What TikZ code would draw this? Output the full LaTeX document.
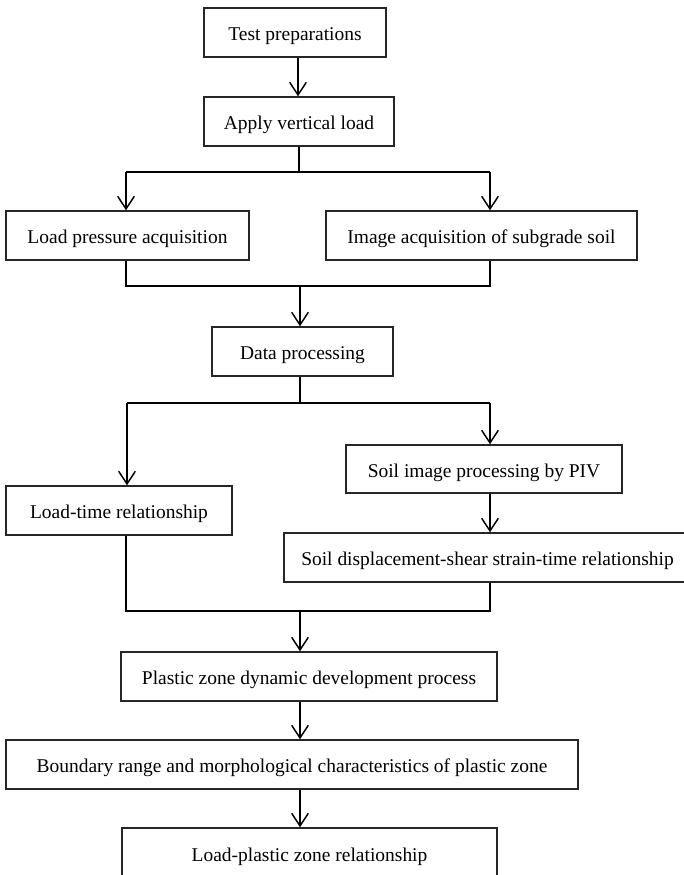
\documentclass[tikz,border=0pt]{standalone}
\usepackage{fontspec}
\setmainfont{Liberation Serif}
\usetikzlibrary{arrows.meta}
\tikzset{
  box/.style 2 args={draw=black!85, line width=1.1pt, rectangle, inner sep=0pt,
    minimum width={#1*0.75pt}, minimum height={#2*0.75pt}, align=center,
    text height=12.3pt, text depth=0pt,
    font=\fontsize{14.6}{16}\selectfont},
  conn/.style={line width=1.1pt, black},
  arr/.style={conn, -{Straight Barb[length=9.5pt,width=12.5pt,line width=1.1pt]}}
}
\begin{document}
\begin{tikzpicture}[x=0.75pt,y=-0.75pt]
\useasboundingbox (0,0) rectangle (684,875);
\clip (0,0) rectangle (684,875);
\fill[white] (0,0) rectangle (684,875);
% boxes
\node[box={182}{49}] (b1) at (295,32.5) {Test preparations};
\node[box={190}{49}] (b2) at (299,121.5) {Apply vertical load};
\node[box={243}{49}] (b3) at (127.5,235.5) {Load pressure acquisition};
\node[box={311}{49}] (b4) at (481.5,235.5) {Image acquisition of subgrade soil};
\node[box={181}{49}] (b5) at (302.5,351.5) {Data processing};
\node[box={276}{48}] (b6) at (484,469) {Soil image processing by PIV};
\node[box={226}{49}] (b7) at (119,510.5) {Load-time relationship};
\node[box={407}{49}] (b8) at (487.5,557.5) {Soil displacement-shear strain-time relationship};
\node[box={376}{49}] (b9) at (309,676.5) {Plastic zone dynamic development process};
\node[box={572}{49}] (b10) at (292,764.5) {Boundary range and morphological characteristics of plastic zone};
\node[box={375}{50}] (b11) at (309.5,853) {Load-plastic zone relationship};
% junction coordinates
\coordinate (s1) at (299,172);
\coordinate (s1l) at (126,172);
\coordinate (s1r) at (490,172);
\coordinate (m1) at (300,286);
\coordinate (m1l) at (126,286);
\coordinate (m1r) at (490,286);
\coordinate (s2) at (300,403);
\coordinate (s2l) at (127,403);
\coordinate (s2r) at (490,403);
\coordinate (m2) at (300,611);
\coordinate (m2l) at (126,611);
\coordinate (m2r) at (490,611);
% connectors
\draw[arr] (b1.south -| 298,0) -- (b2.north -| 298,0);
\draw[conn] (b2.south -| s1) -- (s1);
\draw[conn] (s1l) -- (s1r);
\draw[arr] (s1l) -- (s1l |- b3.north);
\draw[arr] (s1r) -- (s1r |- b4.north);
\draw[conn] (m1l |- b3.south) -- (m1l) -- (m1r) -- (m1r |- b4.south);
\draw[arr] (m1) -- (m1 |- b5.north);
\draw[conn] (b5.south -| s2) -- (s2);
\draw[conn] (s2l) -- (s2r);
\draw[arr] (s2l) -- (s2l |- b7.north);
\draw[arr] (s2r) -- (s2r |- b6.north);
\draw[arr] (b6.south -| s2r) -- (b8.north -| s2r);
\draw[conn] (m2l |- b7.south) -- (m2l) -- (m2r) -- (m2r |- b8.south);
\draw[arr] (m2) -- (m2 |- b9.north);
\draw[arr] (b9.south -| m2) -- (b10.north -| m2);
\draw[arr] (b10.south -| m2) -- (b11.north -| m2);
\end{tikzpicture}
\end{document}
